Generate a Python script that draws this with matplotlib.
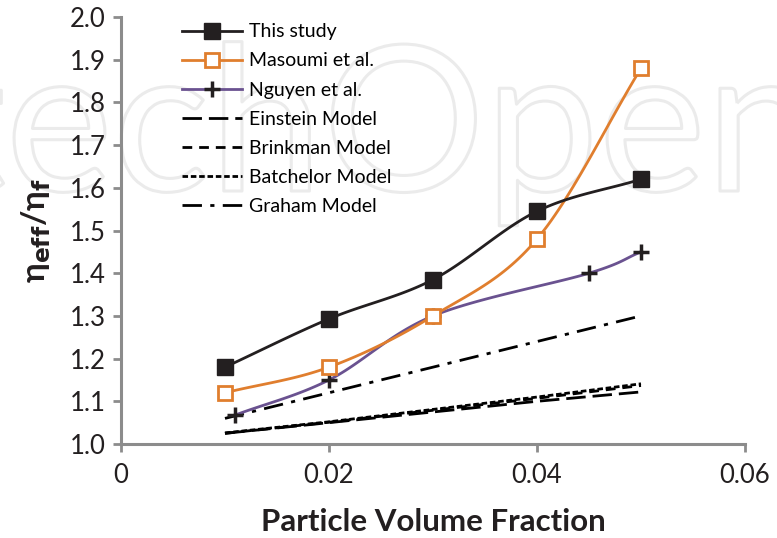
import numpy as np
import matplotlib.pyplot as plt
import matplotlib.patheffects as pe

# --- Data ---
phi = [0.01, 0.02, 0.03, 0.04, 0.05]
this_study = [1.18, 1.293, 1.385, 1.545, 1.62]
masoumi = [1.12, 1.18, 1.30, 1.48, 1.88]

phi_nguyen = [0.011, 0.02, 0.03, 0.045, 0.05]
nguyen = [1.068, 1.15, 1.30, 1.40, 1.45]

einstein = [1.025, 1.050, 1.075, 1.100, 1.122]
brinkman = [1.025, 1.051, 1.079, 1.107, 1.137]
batchelor = [1.026, 1.052, 1.081, 1.110, 1.141]
graham = [1.060, 1.120, 1.180, 1.240, 1.300]

COLORS = {
    'this': '#231F20',
    'masoumi': '#E07E2E',
    'nguyen': '#6A5290',
    'model': 'black',
    'axis': '#8C8C8C',
}

FONT = ['Lato', 'DejaVu Sans']


def smooth(x, y, n=30):
    # Catmull-Rom curve through the points, like a spreadsheet "smoothed line"
    x = np.asarray(x, float)
    y = np.asarray(y, float)
    px = np.concatenate([[2 * x[0] - x[1]], x, [2 * x[-1] - x[-2]]])
    py = np.concatenate([[2 * y[0] - y[1]], y, [2 * y[-1] - y[-2]]])
    xs, ys = [], []
    t = np.linspace(0, 1, n)
    for i in range(1, len(px) - 2):
        for p, out in ((px, xs), (py, ys)):
            p0, p1, p2, p3 = p[i - 1], p[i], p[i + 1], p[i + 2]
            out.extend(0.5 * ((2 * p1) + (-p0 + p2) * t
                              + (2 * p0 - 5 * p1 + 4 * p2 - p3) * t ** 2
                              + (-p0 + 3 * p1 - 3 * p2 + p3) * t ** 3))
    return np.array(xs), np.array(ys)


fig = plt.figure(figsize=(7.77, 5.38), dpi=100)
ax = fig.add_axes([0.1557, 0.1747, 0.8031, 0.7937])
ax.set_facecolor('none')
ax.set_zorder(2)

# faint publisher watermark behind the plot
fig.text(-0.305, 0.645, 'IntechOpen', fontsize=146, family=FONT,
         color='none', zorder=-5, va='baseline',
         path_effects=[pe.Stroke(linewidth=2.2, foreground='#EBEBEB')])

# model curves
ax.plot(phi, einstein, color=COLORS['model'], lw=2, dashes=(7, 2.5), label='Einstein Model')
ax.plot(phi, brinkman, color=COLORS['model'], lw=2, dashes=(3.5, 2.5), label='Brinkman Model')
ax.plot(phi, batchelor, color=COLORS['model'], lw=2, dashes=(2, 1), label='Batchelor Model')
ax.plot(phi, graham, color=COLORS['model'], lw=2, dashes=(7, 3, 1.5, 3), label='Graham Model')

# experimental curves
series = [
    (phi_nguyen, nguyen, COLORS['nguyen'], dict(marker='+', ms=12, mew=2.5, mec='#231F20'), 'Nguyen et al.'),
    (phi, masoumi, COLORS['masoumi'], dict(marker='s', ms=10, mew=2, mfc='white', mec=COLORS['masoumi']), 'Masoumi et al.'),
    (phi, this_study, COLORS['this'], dict(marker='s', ms=11.5, mfc=COLORS['this'], mec=COLORS['this']), 'This study'),
]
handles = {}
for x, y, c, mk, lab in series:
    sx, sy = smooth(x, y)
    ax.plot(sx, sy, color=c, lw=2, zorder=3)
    ax.plot(x, y, ls='none', zorder=4, **mk)
    h, = ax.plot([], [], color=c, lw=2, **mk)
    handles[lab] = h

model_handles = ax.get_lines()[:4]
leg = ax.legend([handles['This study'], handles['Masoumi et al.'], handles['Nguyen et al.']] + model_handles,
                ['This study', 'Masoumi et al.', 'Nguyen et al.', 'Einstein Model',
                 'Brinkman Model', 'Batchelor Model', 'Graham Model'],
                loc='upper left', bbox_to_anchor=(0.097, 0.985), frameon=False,
                borderpad=0, borderaxespad=0,
                handlelength=3.1, labelspacing=0.62, handletextpad=0.35,
                prop={'family': FONT, 'size': 14})

ax.set_xlim(0, 0.06)
ax.set_ylim(1.0, 2.0)
ax.set_xticks([0, 0.02, 0.04, 0.06])
ax.set_xticklabels(['0', '0.02', '0.04', '0.06'])
ax.set_yticks(np.arange(1.0, 2.01, 0.1))
ax.set_yticklabels([f'{v:.1f}' for v in np.arange(1.0, 2.01, 0.1)])

for s in ['top', 'right']:
    ax.spines[s].set_visible(False)
for s in ['left', 'bottom']:
    ax.spines[s].set_color(COLORS['axis'])
    ax.spines[s].set_linewidth(2.2)
ax.tick_params(axis='both', colors=COLORS['axis'], width=2, length=6, labelcolor='#231F20',
               labelsize=18.5)
ax.tick_params(axis='x', pad=8)
ax.tick_params(axis='y', pad=5)
for lbl in ax.get_xticklabels() + ax.get_yticklabels():
    lbl.set_family(FONT)

ax.set_xlabel('Particle Volume Fraction', fontsize=22.5, fontweight='bold', family=FONT,
              color='#231F20', labelpad=14)
ax.set_ylabel(r'η$_{\mathbf{eff}}$/η$_{\mathbf{f}}$', fontsize=24, fontweight='bold', family=FONT,
              color='#231F20', labelpad=12)

fig.savefig('out.png', dpi=100)
